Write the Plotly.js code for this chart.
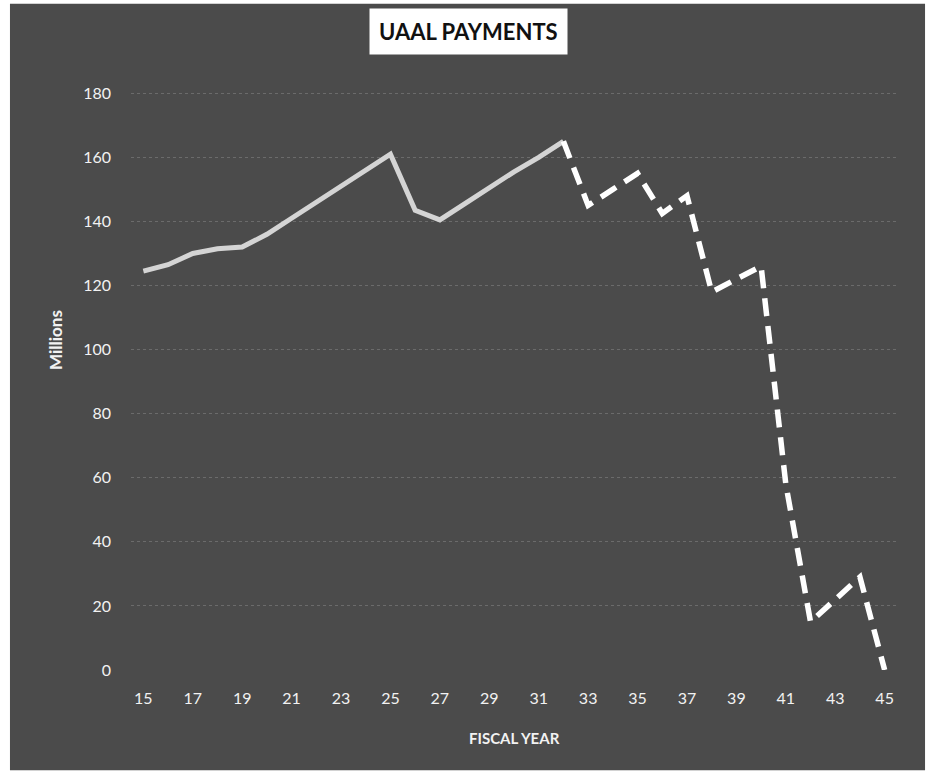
<!DOCTYPE html>
<html>
<head>
<meta charset="utf-8">
<script src="https://cdn.plot.ly/plotly-3.0.1.min.js"></script>
<style>html,body{margin:0;padding:0;background:#fff;}#chart{width:933px;height:774px;}</style>
</head>
<body>
<div id="chart"></div>
<script>
// Fiscal years (two-digit) and UAAL payments in millions
const years = [15,16,17,18,19,20,21,22,23,24,25,26,27,28,29,30,31,32,33,34,35,36,37,38,39,40,41,42,43,44,45];
const payments = [124.5,126.5,130,131.5,132,136,141,146,151,156,161,143.5,140.5,145.5,150.5,155.5,160,165,145,150,155,142.5,148,118,122,126,58,15,22,29,0];
const projectionStartYear = 32;
const xTickVals = [15,17,19,21,23,25,27,29,31,33,35,37,39,41,43,45];
const xTickText = ['15','17','19','21','23','25','27','29','31','33','35','37','39','41','43','45'];
const yTickVals = [0,20,40,60,80,100,120,140,160,180];

const split = years.indexOf(projectionStartYear);
const actual = {
  x: years.slice(0, split + 1), y: payments.slice(0, split + 1),
  type: 'scatter', mode: 'lines', name: 'Actual',
  line: {color: '#d4d4d4', width: 5}
};
const projected = {
  x: years.slice(split), y: payments.slice(split),
  type: 'scatter', mode: 'lines', name: 'Projected',
  line: {color: '#ffffff', width: 5.5, dash: '18px,10px'}
};

const F = 'Lato, "Open Sans", sans-serif';
const layout = {
  width: 933, height: 774,
  margin: {l: 131, r: 36, t: 92, b: 104},
  paper_bgcolor: '#ffffff',
  plot_bgcolor: 'rgba(0,0,0,0)',
  showlegend: false,
  font: {family: F, color: '#f2f2f2', size: 16},
  xaxis: {
    range: [14.5, 45.5], tickvals: xTickVals, ticktext: xTickText,
    showgrid: false, zeroline: false, showline: false, ticks: '',
    ticklabelstandoff: 17,
    tickfont: {family: F, size: 16, color: '#f2f2f2'}
  },
  yaxis: {
    range: [0, 180.4], tickvals: yTickVals,
    showgrid: true, gridcolor: 'rgba(255,255,255,0.18)', griddash: 'dot', gridwidth: 1,
    zeroline: false, showline: false, ticks: '',
    ticklabelstandoff: 19,
    tickfont: {family: F, size: 16, color: '#f2f2f2'}
  },
  shapes: [
    {type: 'rect', xref: 'paper', yref: 'paper', layer: 'below',
     x0: -0.158, x1: 1.0366, y0: -0.1733, y1: 1.1525,
     fillcolor: '#4b4b4b', line: {width: 0}}
  ],
  annotations: [
    {text: '<b>UAAL PAYMENTS</b>', xref: 'paper', yref: 'paper',
     x: (468 - 131) / 766, y: (670 - 32) / 578, xanchor: 'center', yanchor: 'middle',
     showarrow: false, bgcolor: '#ffffff', borderpad: 9,
     font: {family: F, size: 22, color: '#111111'}},
    {text: '<b>FISCAL YEAR</b>', xref: 'paper', yref: 'paper',
     x: 0.5, y: (670 - 738) / 578, xanchor: 'center', yanchor: 'middle',
     showarrow: false, font: {family: F, size: 15, color: '#f2f2f2'}},
    {text: '<b>Millions</b>', xref: 'paper', yref: 'paper', textangle: -90,
     x: (55 - 131) / 766, y: (670 - 340) / 578, xanchor: 'center', yanchor: 'middle',
     showarrow: false, font: {family: F, size: 17, color: '#f2f2f2'}}
  ]
};

Plotly.newPlot('chart', [actual, projected], layout, {displayModeBar: false, staticPlot: true});
</script>
</body>
</html>
